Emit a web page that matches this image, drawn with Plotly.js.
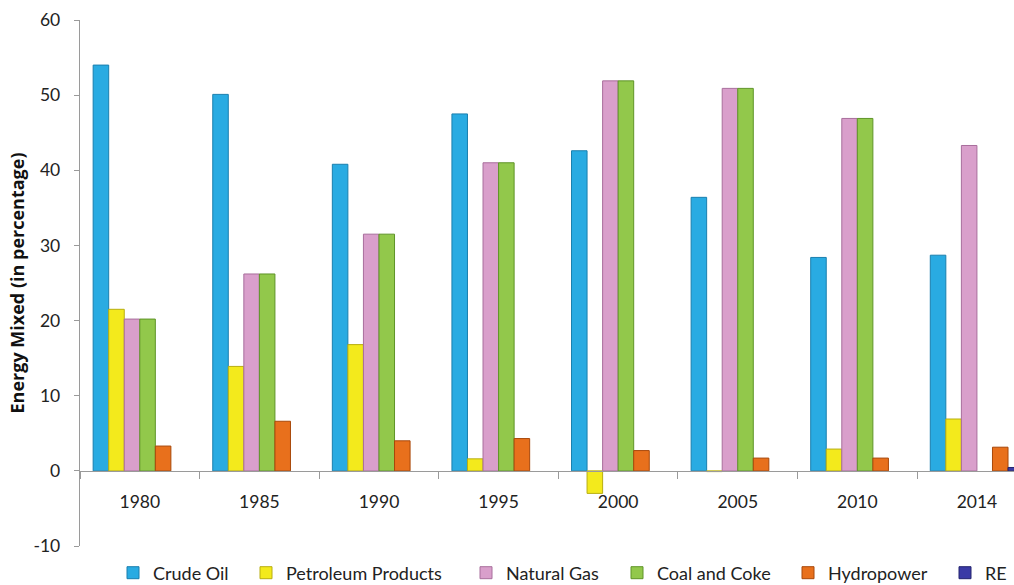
<!DOCTYPE html>
<html>
<head>
<meta charset="utf-8">
<script src="https://cdn.plot.ly/plotly-3.0.1.min.js"></script>
<style>html,body{margin:0;padding:0;background:#fff;}#chart{width:1014px;height:585px;}</style>
</head>
<body>
<div id="chart"></div>
<script>
const years = ["1980", "1985", "1990", "1995", "2000", "2005", "2010", "2014"];
const crudeOil = [54.0, 50.1, 40.8, 47.5, 42.6, 36.4, 28.4, 28.7];
const petroleumProducts = [21.5, 13.9, 16.8, 1.6, -3.0, -0.1, 2.9, 6.9];
const naturalGas = [20.2, 26.2, 31.5, 41.0, 51.9, 50.9, 46.9, 43.3];
const coalAndCoke = [20.2, 26.2, 31.5, 41.0, 51.9, 50.9, 46.9, null];
const hydropower = [3.3, 6.6, 4.0, 4.3, 2.7, 1.7, 1.7, 3.15];
const re = [null, null, null, null, null, null, null, 0.45];
const seriesNames = ["Crude Oil", "Petroleum Products", "Natural Gas", "Coal and Coke", "Hydropower", "RE"];
const yTicks = [-10, 0, 10, 20, 30, 40, 50, 60];

const seriesValues = [crudeOil, petroleumProducts, naturalGas, coalAndCoke, hydropower, re];
const fills = ["#29ABE2", "#F3EA1C", "#D99FCB", "#92C84B", "#E8701C", "#3B3BA6"];
const edges = ["#1A7FAE", "#B8AE10", "#A86E9C", "#5F9428", "#A8480A", "#24246E"];
const legendTextX = [150, 283, 503, 654, 825, 982];

const plotLeft = 80, plotWidth = 934, plotTop = 20, plotBottom = 546, plotH = plotBottom - plotTop;
const FONT = "Lato, 'Open Sans', sans-serif";

const traces = seriesNames.map((name, i) => ({
  type: "bar",
  name: name,
  x: years,
  y: seriesValues[i],
  marker: {color: fills[i], line: {color: edges[i], width: 1}},
  legend: i === 0 ? "legend" : "legend" + (i + 1),
  hoverinfo: "x+y+name"
}));

const layout = {
  width: 1014,
  height: 585,
  margin: {l: plotLeft, r: 0, t: plotTop, b: 585 - plotBottom, autoexpand: false},
  paper_bgcolor: "#ffffff",
  plot_bgcolor: "#ffffff",
  font: {family: FONT, color: "#222222", size: 17},
  barmode: "group",
  bargap: 0.22,
  bargroupgap: 0,
  xaxis: {
    type: "category",
    range: [-0.5, 7.31],
    anchor: "free",
    position: 10 / 70,
    showline: true,
    linecolor: "#9a9a9a",
    linewidth: 1.3,
    ticks: "outside",
    tickson: "boundaries",
    ticklen: 7,
    tickcolor: "#9a9a9a",
    showgrid: false,
    zeroline: false,
    ticklabelstandoff: 15,
    tickfont: {family: FONT, size: 17.5, color: "#222222"}
  },
  yaxis: {
    range: [-10, 60],
    tickvals: yTicks,
    ticktext: yTicks.map(String),
    showline: true,
    linecolor: "#9a9a9a",
    linewidth: 1.3,
    ticks: "outside",
    ticklen: 5,
    tickcolor: "#9a9a9a",
    showgrid: false,
    zeroline: false,
    ticklabelstandoff: 10,
    tickfont: {family: FONT, size: 17.5, color: "#222222"},
    title: {text: "Energy Mixed (in percentage)", font: {family: "'Open Sans', Lato, sans-serif", size: 18, color: "#111111", weight: "bold"}, standoff: 4}
  },
  showlegend: true
};

seriesNames.forEach((n, i) => {
  const key = i === 0 ? "legend" : "legend" + (i + 1);
  layout[key] = {
    x: (legendTextX[i] - 37 - plotLeft) / plotWidth,
    xanchor: "left",
    y: (plotBottom - 573) / plotH,
    yanchor: "middle",
    orientation: "h",
    bgcolor: "rgba(0,0,0,0)",
    borderwidth: 0,
    itemwidth: 30,
    font: {family: FONT, size: 18, color: "#222222"}
  };
});

Plotly.newPlot("chart", traces, layout, {displayModeBar: false, staticPlot: true});
</script>
</body>
</html>
